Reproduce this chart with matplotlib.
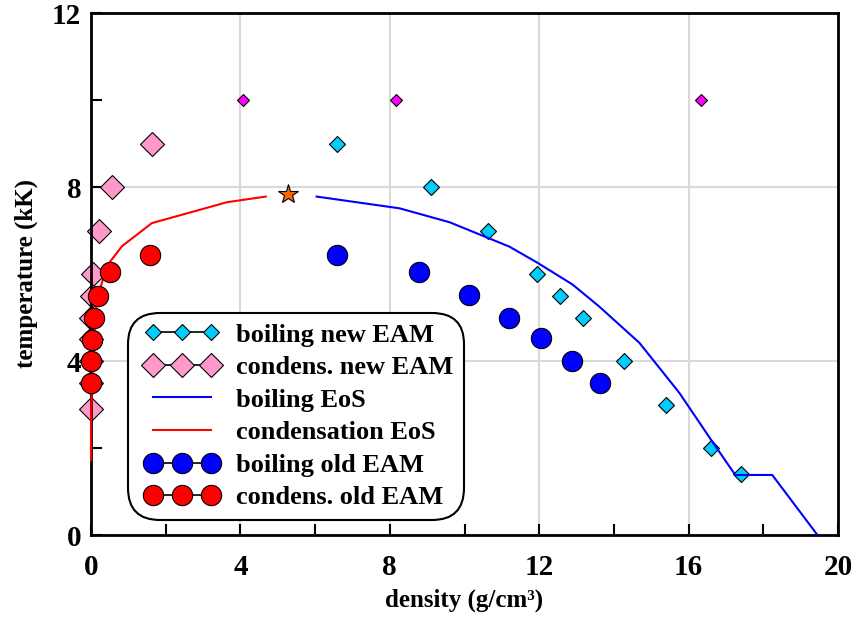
import matplotlib
matplotlib.use("Agg")
import matplotlib.pyplot as plt
from matplotlib.lines import Line2D
from matplotlib.legend_handler import HandlerLine2D
from matplotlib.ticker import MultipleLocator

plt.rcParams['font.family'] = ['Liberation Serif', 'DejaVu Serif']
plt.rcParams['font.weight'] = 'bold'

# ---- data ----
boil_new_x = [6.58, 9.09, 10.64, 11.95, 12.57, 13.16, 14.28, 15.40, 16.60, 17.40]
boil_new_y = [9.0, 8.0, 7.0, 6.0, 5.5, 5.0, 4.0, 3.0, 2.0, 1.4]

extra_x = [4.06, 8.16, 16.34]
extra_y = [10.0, 10.0, 10.0]

cond_new_x = [1.63, 0.56, 0.21, 0.05, 0.02, 0.01, 0.0, 0.0, 0.0, 0.01]
cond_new_y = [9.0, 8.0, 7.0, 6.0, 5.5, 5.0, 4.5, 4.0, 3.5, 2.9]

boil_eos_x = [6.04, 8.26, 9.60, 11.20, 11.95, 12.89, 13.61, 14.68, 15.75, 16.60, 17.25, 18.24, 19.45]
boil_eos_y = [7.78, 7.51, 7.19, 6.63, 6.26, 5.76, 5.25, 4.42, 3.27, 2.19, 1.38, 1.38, 0.0]

cond_eos_x = [0.0, 0.0, 0.05, 0.16, 0.32, 0.50, 0.83, 1.63, 3.64, 4.68]
cond_eos_y = [1.72, 2.65, 4.26, 5.41, 5.88, 6.27, 6.64, 7.17, 7.65, 7.78]

boil_old_x = [6.58, 8.77, 10.13, 11.20, 12.06, 12.89, 13.64]
boil_old_y = [6.43, 6.04, 5.51, 5.0, 4.52, 4.01, 3.5]

cond_old_x = [1.58, 0.50, 0.20, 0.08, 0.03, 0.0, 0.0]
cond_old_y = [6.43, 6.04, 5.5, 5.0, 4.49, 4.0, 3.5]

crit_x = [5.27]
crit_y = [7.83]

labels = ["boiling new EAM", "condens. new EAM", "boiling EoS",
          "condensation EoS", "boiling old EAM", "condens. old EAM"]
xticks = [0, 4, 8, 12, 16, 20]
yticks = [0, 4, 8, 12]

# ---- styles ----
cyan = '#00CCFF'
pink = '#FF99CC'
magenta = '#FF00FF'
blue = '#0000FF'
red = '#FF0000'
orange = '#FF6600'

ms_cyan, ms_pink, ms_mag, ms_circ = 8.3, 12.3, 6.3, 14.6

fig = plt.figure(figsize=(8.56, 6.19), dpi=100)
ax = fig.add_axes([91/856, 1-535/619, 747/856, 522/619])

ax.plot(boil_new_x, boil_new_y, ls='none', marker='D', ms=ms_cyan, mfc=cyan, mec='black', mew=0.8, zorder=2)
ax.plot(extra_x, extra_y, ls='none', marker='D', ms=ms_mag, mfc=magenta, mec='black', mew=0.8, zorder=2)
ax.plot(cond_new_x, cond_new_y, ls='none', marker='D', ms=ms_pink, mfc=pink, mec='black', mew=0.8, zorder=2, clip_on=False)
ax.plot(boil_eos_x, boil_eos_y, color=blue, lw=1.5, zorder=3)
ax.plot(cond_eos_x, cond_eos_y, color=red, lw=1.5, zorder=3, clip_on=False)
ax.plot(boil_old_x, boil_old_y, ls='none', marker='o', ms=ms_circ, mfc=blue, mec='black', mew=0.8, zorder=4)
ax.plot(cond_old_x, cond_old_y, ls='none', marker='o', ms=ms_circ, mfc=red, mec='black', mew=0.8, zorder=4, clip_on=False)
ax.plot(crit_x, crit_y, ls='none', marker='*', ms=15, mfc=orange, mec='black', mew=0.8, zorder=5)

ax.set_xlim(0, 20)
ax.set_ylim(0, 12)
ax.set_xticks(xticks)
ax.set_yticks(yticks)
ax.xaxis.set_minor_locator(MultipleLocator(2))
ax.yaxis.set_minor_locator(MultipleLocator(2))
ax.tick_params(which='both', direction='in', length=8, width=1.5, labelsize=21)
ax.tick_params(axis='x', which='major', pad=14)
ax.tick_params(axis='y', which='major', pad=7)
ax.tick_params(which='both', top=False, right=False)
ax.grid(True, which='major', color='#D9D9D9', lw=1.5, zorder=0)
ax.set_axisbelow(True)
for s in ax.spines.values():
    s.set_linewidth(2)

ax.set_xlabel("density (g/cm³)", fontsize=18, fontweight='bold', labelpad=5)
ax.set_ylabel("temperature (kK)", fontsize=18, fontweight='bold', labelpad=10)

handles = [
    Line2D([], [], color='black', lw=1.2, marker='D', ms=ms_cyan, mfc=cyan, mec='black', mew=0.8),
    Line2D([], [], color='black', lw=1.2, marker='D', ms=ms_pink, mfc=pink, mec='black', mew=0.8),
    Line2D([], [], color=blue, lw=1.5),
    Line2D([], [], color=red, lw=1.5),
    Line2D([], [], color='black', lw=1.2, marker='o', ms=ms_circ, mfc=blue, mec='black', mew=0.8),
    Line2D([], [], color='black', lw=1.2, marker='o', ms=ms_circ, mfc=red, mec='black', mew=0.8),
]
leg = ax.legend(handles, labels, loc='lower left', bbox_to_anchor=(0.0566, 0.0389),
                borderaxespad=0, numpoints=3, handlelength=3.3, handletextpad=0.4,
                labelspacing=0.345, borderpad=0.2, fancybox=True,
                handler_map={Line2D: HandlerLine2D(marker_pad=0.55)},
                prop={'size': 19, 'weight': 'bold'}, framealpha=1)
leg.set_zorder(6)
fr = leg.get_frame()
fr.set_edgecolor('black')
fr.set_linewidth(1.5)
fr.set_boxstyle('round,pad=0.2,rounding_size=1.2')

fig.savefig('out.png', dpi=100)
